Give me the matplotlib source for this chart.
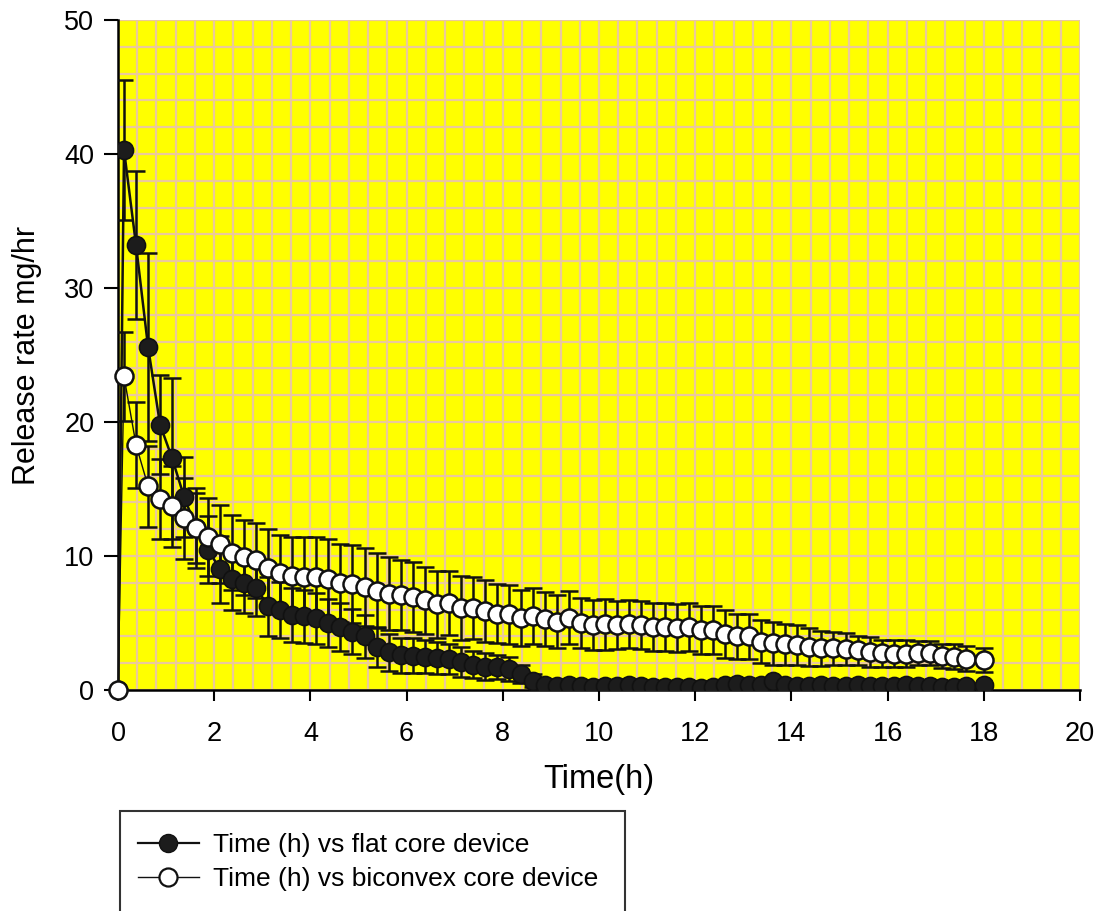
import matplotlib
matplotlib.use("Agg")
import matplotlib.pyplot as plt
from matplotlib.lines import Line2D
from matplotlib.patches import Rectangle
import numpy as np

plt.rcParams['font.family'] = ['Liberation Sans', 'DejaVu Sans']

# ---------------- data ----------------
time_h = [0, 0.125, 0.375, 0.625, 0.875, 1.125, 1.375, 1.625, 1.875, 2.125, 2.375,
          2.625, 2.875, 3.125, 3.375, 3.625, 3.875, 4.125, 4.375, 4.625, 4.875,
          5.125, 5.375, 5.625, 5.875, 6.125, 6.375, 6.625, 6.875, 7.125, 7.375,
          7.625, 7.875, 8.125, 8.375, 8.625, 8.875, 9.125, 9.375, 9.625, 9.875,
          10.125, 10.375, 10.625, 10.875, 11.125, 11.375, 11.625, 11.875, 12.125,
          12.375, 12.625, 12.875, 13.125, 13.375, 13.625, 13.875, 14.125, 14.375,
          14.625, 14.875, 15.125, 15.375, 15.625, 15.875, 16.125, 16.375, 16.625,
          16.875, 17.125, 17.375, 17.625, 18.0]

flat_rate = [0, 40.3, 33.2, 25.6, 19.8, 17.3, 14.4, 12.1, 10.45, 9.0, 8.3,
             7.95, 7.6, 6.25, 5.95, 5.6, 5.5, 5.35, 5.0, 4.7, 4.35,
             4.0, 3.2, 2.8, 2.6, 2.55, 2.5, 2.4, 2.3, 2.1, 1.9,
             1.75, 1.7, 1.6, 1.2, 0.7, 0.4,
             0.3, 0.35, 0.3, 0.25, 0.3, 0.3, 0.35, 0.3, 0.25, 0.2,
             0.25, 0.2, 0.15, 0.25, 0.35, 0.45, 0.4, 0.35, 0.7, 0.4,
             0.3, 0.3, 0.35, 0.3, 0.3, 0.35, 0.3, 0.3, 0.3, 0.35,
             0.3, 0.3, 0.25, 0.25, 0.3, 0.35]

flat_sd = [0, 5.2, 5.5, 7.0, 3.7, 6.0, 3.0, 2.6, 2.5, 2.5, 2.3,
           2.2, 2.1, 2.2, 2.1, 2.0, 2.0, 1.9, 1.8, 1.8, 1.7,
           1.6, 1.5, 1.4, 1.3, 1.3, 1.2, 1.2, 1.1, 1.1, 1.0,
           1.0, 0.9, 0.9, 0.7, 0.5, 0.3,
           0.2, 0.2, 0.2, 0.2, 0.2, 0.2, 0.2, 0.2, 0.2, 0.2,
           0.2, 0.2, 0.2, 0.2, 0.2, 0.2, 0.2, 0.2, 0.2, 0.2,
           0.2, 0.2, 0.2, 0.2, 0.2, 0.2, 0.2, 0.2, 0.2, 0.2,
           0.2, 0.2, 0.2, 0.2, 0.2, 0.2]

biconvex_rate = [0, 23.4, 18.3, 15.2, 14.25, 13.7, 12.8, 12.1, 11.4, 10.9, 10.25,
                 9.9, 9.7, 9.1, 8.7, 8.5, 8.45, 8.4, 8.3, 8.0, 7.9,
                 7.7, 7.4, 7.2, 7.1, 6.95, 6.7, 6.4, 6.5, 6.1, 6.1,
                 5.9, 5.7, 5.65, 5.4, 5.5, 5.3, 5.1, 5.4, 5.0, 4.85,
                 4.9, 4.85, 4.9, 4.85, 4.7, 4.7, 4.6, 4.7, 4.5, 4.5,
                 4.2, 4.0, 4.0, 3.6, 3.5, 3.4, 3.35, 3.2, 3.1, 3.1,
                 3.05, 2.95, 2.85, 2.75, 2.7, 2.7, 2.75, 2.75, 2.55, 2.5, 2.35,
                 2.25]

biconvex_sd = [0, 3.3, 3.2, 3.0, 3.0, 3.0, 3.0, 3.0, 2.9, 2.9, 2.8,
               2.8, 2.8, 2.9, 2.9, 2.9, 3.0, 3.0, 3.0, 2.9, 2.9,
               2.9, 2.8, 2.7, 2.6, 2.6, 2.5, 2.5, 2.4, 2.4, 2.3,
               2.3, 2.2, 2.2, 2.1, 2.1, 2.0, 2.0, 2.0, 1.9, 1.9,
               1.9, 1.8, 1.8, 1.8, 1.8, 1.8, 1.8, 1.8, 1.8, 1.8,
               1.8, 1.7, 1.7, 1.6, 1.6, 1.5, 1.5, 1.4, 1.3, 1.2,
               1.2, 1.1, 1.1, 1.0, 1.0, 1.0, 0.9, 0.9, 0.9, 0.9, 0.9,
               0.9]

x_ticks = [0, 2, 4, 6, 8, 10, 12, 14, 16, 18, 20]
y_ticks = [0, 10, 20, 30, 40, 50]
labels = ["Time (h) vs flat core device", "Time (h) vs biconvex core device"]

# ---------------- figure ----------------
W, H = 1102, 911
fig = plt.figure(figsize=(W / 100, H / 100), dpi=100)
ax = fig.add_axes([118 / W, 1 - 690 / H, (1080 - 118) / W, (690 - 20) / H])
ax.set_facecolor('#ffff00')

ax.errorbar(time_h, flat_rate, yerr=flat_sd, fmt='none', ecolor='#111111',
            elinewidth=1.8, capsize=6.5, capthick=1.8, zorder=3)
ax.errorbar(time_h, biconvex_rate, yerr=biconvex_sd, fmt='none', ecolor='#111111',
            elinewidth=1.8, capsize=6.5, capthick=1.8, zorder=3)
ax.plot(time_h, flat_rate, color='#111111', lw=1.8, marker='o', ms=13,
        mfc='#1c1c1c', mec='#111111', mew=1.2, zorder=4)
ax.plot(time_h, biconvex_rate, color='#111111', lw=1.0, marker='o', ms=13,
        mfc='white', mec='#111111', mew=1.8, zorder=5, clip_on=False)

ax.set_xlim(0, 20)
ax.set_ylim(0, 50)
ax.set_xticks(x_ticks)
ax.set_yticks(y_ticks)
ax.set_xticks(np.arange(0, 20.01, 0.4), minor=True)
ax.set_yticks(np.arange(0, 50.01, 2), minor=True)
ax.grid(True, which='both', color='#ebc99c', lw=1.6, zorder=0)
ax.set_axisbelow(True)

ax.tick_params(axis='both', which='minor', length=0)
ax.tick_params(axis='x', which='major', labelsize=19.5, length=8, width=1.5, pad=14)
ax.tick_params(axis='y', which='major', labelsize=19.5, length=10, width=1.5, pad=7)
for s in ['top', 'right']:
    ax.spines[s].set_visible(False)
for s in ['left', 'bottom']:
    ax.spines[s].set_linewidth(1.8)

ax.set_xlabel("Time(h)", fontsize=23.5)
ax.xaxis.set_label_coords(0.5, -0.111)
ax.xaxis.label.set_va('top')
ax.set_ylabel("Release rate mg/hr", fontsize=22)
ax.yaxis.set_label_coords(-0.079, 0.5)

# legend
handles = [Line2D([0], [0], color='#111111', lw=1.6, marker='o', ms=13,
                  mfc='#1c1c1c', mec='#111111'),
           Line2D([0], [0], color='#111111', lw=1.0, marker='o', ms=13,
                  mfc='white', mec='#111111', mew=1.6)]
fig.legend(handles, labels, loc='upper left',
           bbox_to_anchor=(138 / W, 1 - 833 / H), frameon=False,
           fontsize=19, handlelength=2.3, handletextpad=0.55,
           labelspacing=0.38, borderpad=0, borderaxespad=0)
rect = Rectangle((120 / W, -0.05), (625 - 120) / W, (1 - 811 / H) + 0.05,
                 transform=fig.transFigure, fill=False, ec='#333333', lw=1.5)
fig.add_artist(rect)

fig.savefig("out.png", dpi=100)
